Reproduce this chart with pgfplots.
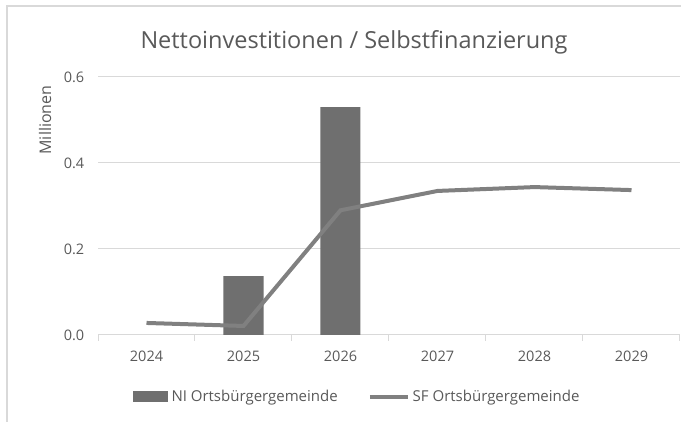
\documentclass[border=0pt]{standalone}
\usepackage{fontspec}
\setmainfont{Open Sans}
\usepackage{pgfplots}
\pgfplotsset{compat=1.18}
\definecolor{txt}{HTML}{595959}
\definecolor{gridc}{HTML}{D9D9D9}
\definecolor{barc}{HTML}{6F6F6F}
\definecolor{linec}{HTML}{808080}
\begin{document}
\begin{tikzpicture}[x=1pt,y=1pt]
\useasboundingbox (0,0) rectangle (696,422);
\draw[gridc, line width=1.5pt] (7,0) -- (7,416) -- (681,416);
\node[txt, font=\fontsize{23.5}{27}\selectfont] at (354,380) {Nettoinvestitionen / Selbstfinanzierung};
\node[txt, rotate=90, font=\fontsize{16}{18}\selectfont] at (45,302) {Millionen};
\begin{axis}[
  at={(98pt,87pt)}, anchor=south west,
  scale only axis, width=582pt, height=258pt,
  xmin=-0.5, xmax=5.5, ymin=0, ymax=0.6,
  axis x line*=bottom, axis y line*=left,
  y axis line style={draw=none},
  x axis line style={gridc, line width=1pt},
  xtick={0,1,2,3,4,5},
  xticklabels={2024,2025,2026,2027,2028,2029},
  minor xtick={-0.5,0.5,1.5,2.5,3.5,4.5,5.5},
  major x tick style={draw=none},
  minor x tick style={gridc, line width=1pt},
  minor tick length=6pt,
  tick align=outside,
  ytick={0,0.2,0.4,0.6},
  yticklabels={0.0,0.2,0.4,0.6},
  major y tick style={draw=none},
  ymajorgrids, grid style={gridc, line width=1pt},
  tick label style={txt, font=\fontsize{14.5}{17}\selectfont},
  xticklabel style={yshift=-8pt},
  yticklabel style={xshift=-6pt},
  /pgf/number format/assume math mode=true,
  legend style={at={(0.445,-0.24)}, anchor=center, draw=none, fill=none,
    legend columns=2, font=\fontsize{15}{18}\selectfont, text=txt,
    /tikz/every even column/.append style={column sep=28pt}},
  legend cell align=left,
  clip=false,
]
\addplot[ybar, bar width=40pt, fill=barc, draw=none,
  legend image code/.code={\fill[barc] (0pt,-5.5pt) rectangle (35pt,5.5pt); \path (37pt,0pt);}]
  coordinates {(1,0.137) (2,0.530)};
\addlegendentry{NI Ortsbürgergemeinde}
\addplot[linec, line width=4pt, sharp plot, mark=none,
  legend image code/.code={\draw[linec, line width=4pt] (0pt,0pt) -- (38pt,0pt); \path (39pt,0pt);}]
  coordinates {(0,0.028) (1,0.021) (2,0.290) (3,0.335) (4,0.344) (5,0.337)};
\addlegendentry{SF Ortsbürgergemeinde}
\end{axis}
\end{tikzpicture}
\end{document}
